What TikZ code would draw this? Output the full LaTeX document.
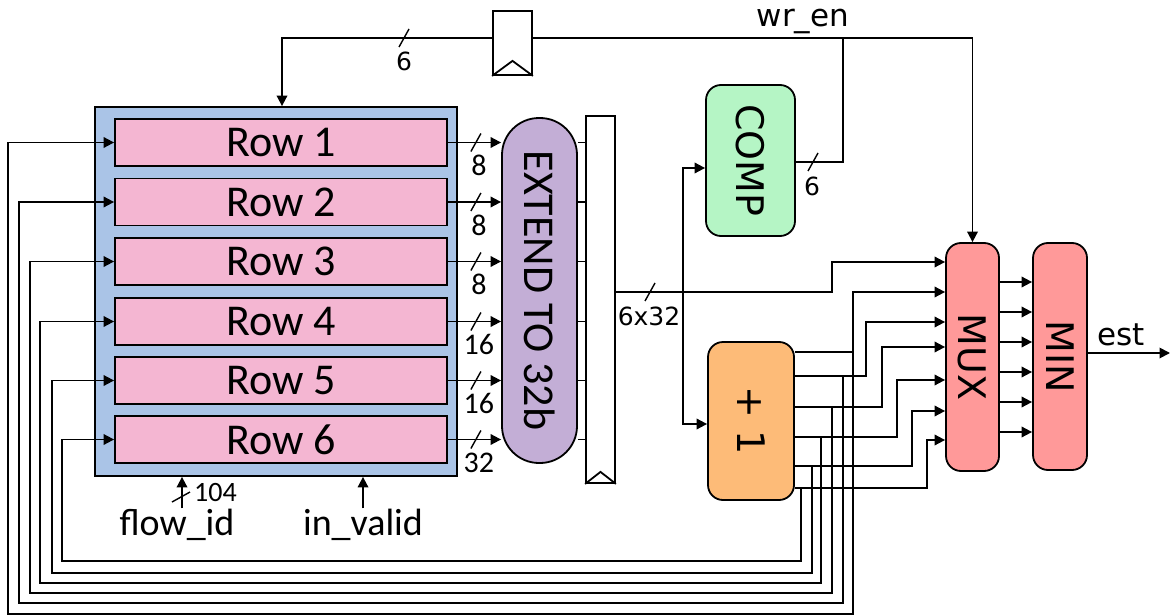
\documentclass[tikz,border=0pt]{standalone}
\usepackage{fontspec}
\setmainfont{Carlito}
\newfontfamily\dv{DejaVu Sans}
\usetikzlibrary{arrows.meta,calc}
\definecolor{bluebg}{RGB}{170,196,231}
\definecolor{rowpink}{RGB}{244,182,210}
\definecolor{extpurple}{RGB}{195,174,214}
\definecolor{compgreen}{RGB}{181,245,197}
\definecolor{plusorange}{RGB}{253,187,120}
\definecolor{muxred}{RGB}{255,153,153}
\tikzset{
  ln/.style={line width=1.8pt},
  arr/.style={line width=1.8pt,-{Triangle[length=10.5pt,width=10.5pt]}},
  box/.style={draw,line width=1.8pt,inner sep=0pt},
  rbox/.style={box,rounded corners=15pt},
  txt/.style={inner sep=0pt},
  sl/.pic={\draw[line width=1.4pt] (-5,9) -- (5,-9);},
  slw/.pic={\draw[line width=1.4pt] (-9,5) -- (9,-5);},
}
\begin{document}
\begin{tikzpicture}[x=1pt,y=-1pt]
\useasboundingbox (0,0) rectangle (1172,615);
% blue box and rows
\node[box,fill=bluebg,minimum width=362pt,minimum height=369pt] (blue) at (276,291.5) {};
\foreach \i/\y in {1/142.5,2/202,3/261.5,4/321.5,5/380.5,6/439.5}{
  \node[box,fill=rowpink,minimum width=332pt,minimum height=47pt] (row\i) at (281,\y) {\fontsize{44}{50}\selectfont Row \i};
}
% extend
\node[box,fill=extpurple,rounded corners=37pt,minimum width=75pt,minimum height=345pt] (ext) at (539.5,290.5) {};
\node[txt,rotate=-90] at (ext) {\fontsize{44}{50}\selectfont EXTEND TO 32b};
% registers
\node[box,fill=white,minimum width=29pt,minimum height=367pt] (reg2) at (600.5,299.5) {};
\draw[ln] (reg2.south west) -- ($(reg2.south)+(0,-12)$) -- (reg2.south east);
\node[box,fill=white,minimum width=39pt,minimum height=64pt] (reg1) at (512.5,43) {};
\draw[ln] (reg1.south west) -- ($(reg1.south)+(0,-15)$) -- (reg1.south east);
% comp, +1, mux, min
\node[rbox,fill=compgreen,minimum width=89pt,minimum height=151pt] (comp) at (750.5,160.5) {};
\node[txt,rotate=-90] at (comp) {\dv\fontsize{38}{44}\selectfont COMP};
\node[rbox,fill=plusorange,minimum width=86pt,minimum height=158pt] (plus) at (751,421) {};
\node[txt,rotate=-90] at (plus) {\dv\fontsize{38}{44}\selectfont + 1};
\node[rbox,fill=muxred,minimum width=53pt,minimum height=228pt] (mux) at (972.5,357) {};
\node[txt,rotate=-90] at (mux) {\dv\fontsize{38}{44}\selectfont MUX};
\node[rbox,fill=muxred,minimum width=54pt,minimum height=227pt] (min) at (1060,356.5) {};
\node[txt,rotate=-90] at (min) {\dv\fontsize{38}{44}\selectfont MIN};
% rows -> extend -> reg2
\foreach \i/\t in {1/8,2/8,3/8,4/16,5/16,6/32}{
  \draw[arr] (row\i.east) -- (ext.west |- row\i.east);
  \draw[ln] (ext.east |- row\i.east) -- (reg2.west |- row\i.east);
  \pic at ($(row\i.east)+(28,0)$) {sl};
  \node[txt,anchor=base] at ($(row\i.east)+(31,33)$) {\fontsize{30}{34}\selectfont \t};
}
% bus out
\coordinate (j) at (683,292);
\draw[arr] (reg2.east |- j) -| (832,262) -- (mux.west |- 0,262);
\pic at (650,292) {sl};
\node[txt,anchor=base] at (649,325) {\dv\fontsize{25}{30}\selectfont 6x32};
\draw[arr] (j) |- (comp.west |- 0,168);
\draw[arr] (j) |- (plus.west |- 0,424);
% comp output, wr_en
\coordinate (w) at (843,38);
\draw[ln] (comp.east |- 0,162) -| (w);
\pic at (813,162) {sl};
\node[txt,anchor=base] at (812,195) {\dv\fontsize{25}{30}\selectfont 6};
\draw[ln] (w) -- (reg1.east |- w);
\draw[arr] (reg1.west |- w) -| (blue.north -| 282,0);
\pic at (404,38) {sl};
\node[txt,anchor=base] at (404,71) {\dv\fontsize{25}{30}\selectfont 6};
\draw[arr] (w) -| (mux.north);
\node[txt,anchor=base] at (803,27) {\dv\fontsize{31}{36}\selectfont wr\_en};
% +1 outputs to mux and feedback
\foreach \k/\o/\m/\r/\f/\b/\l in {1/352/292/853/853/614/8, 2/376/322/866/843/603/19, 3/407/347/882/832/593/30, 4/437/380/897/821/583/40, 5/466/411/912/812/573/52, 6/488/440/927/801/561/62}{
  \coordinate (o\k) at (\f,\o);
  \draw[arr] (plus.east |- o\k) -| (\r,\m) -- (mux.west |- 0,\m);
  \draw[arr] (o\k) -- (\f,\b) -| (\l,\b) |- (row\k.west);
}
% mux -> min -> est
\foreach \y in {282,312,342,372,402,432}{
  \draw[arr] (mux.east |- 0,\y) -- (min.west |- 0,\y);
}
\coordinate (estend) at (1170,353);
\draw[arr] (min.east |- estend) -- (estend);
\node[txt,anchor=base] at (1121,345) {\dv\fontsize{31}{36}\selectfont est};
% bottom inputs
\node[txt,anchor=base] (flow) at (177,535) {\fontsize{38}{44}\selectfont flow\_id};
\draw[arr] (flow.north -| 182,0) -- (blue.south -| 182,0);
\pic at (181,497) {slw};
\node[txt,anchor=base west] at (194,501) {\fontsize{28}{32}\selectfont 104};
\node[txt,anchor=base] (inv) at (363,535) {\fontsize{38}{44}\selectfont in\_valid};
\draw[arr] (inv.north) -- (blue.south -| inv.north);
\end{tikzpicture}
\end{document}
